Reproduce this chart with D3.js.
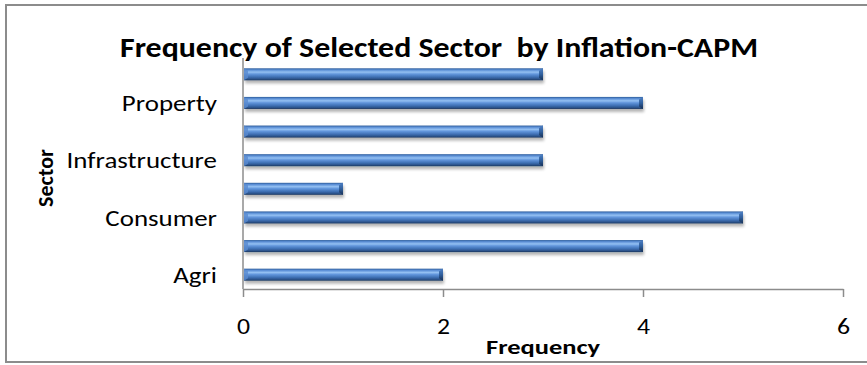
<!DOCTYPE html>
<html>
<head>
<meta charset="utf-8">
<script src="https://cdn.jsdelivr.net/npm/d3@7"></script>
<style>
  html, body { margin: 0; padding: 0; background: #ffffff; }
  svg { display: block; }
  text { font-family: Carlito, Calibri, Lato, "Open Sans", sans-serif; fill: #000; }
</style>
</head>
<body>
<svg id="chart" width="867" height="365"></svg>
<script>
// Sector categories, bottom to top; every other label is left blank on the axis
const categories = ["Agri", "", "Consumer", "", "Infrastructure", "", "Property", ""];
const frequency = [2, 4, 5, 1, 3, 3, 4, 3];
const xTicks = [0, 2, 4, 6];
const titleText = "Frequency of Selected Sector  by Inflation-CAPM";
const xTitle = "Frequency";
const yTitle = "Sector";

const svg = d3.select("#chart");
const W = 867, H = 365;
const margin = { left: 243, right: 24, top: 60, bottom: 76 };

// Widen horizontal text by a factor of its natural length
function widen(sel, k) {
  sel.each(function () {
    const len = this.getComputedTextLength();
    d3.select(this).attr("textLength", len * k).attr("lengthAdjust", "spacingAndGlyphs");
  });
}
// Fit text to a given rendered length
function fitTo(sel, len) {
  sel.attr("textLength", len).attr("lengthAdjust", "spacingAndGlyphs");
}

// Outer chart frame
svg.append("rect")
  .attr("x", 6).attr("y", 5)
  .attr("width", W + 10).attr("height", 357)
  .attr("fill", "#fff").attr("stroke", "#8c8c8c").attr("stroke-width", 2);

const x = d3.scaleLinear().domain([0, 6]).range([margin.left, W - margin.right]);
const idx = d3.range(categories.length);
const y = d3.scaleBand().domain(idx.slice().reverse())
  .range([margin.top, H - margin.bottom]).paddingInner(0.58).paddingOuter(0.29);

// Bar fill: bevelled blue with light highlight near the top edge
const defs = svg.append("defs");
const grad = defs.append("linearGradient").attr("id", "barGrad")
  .attr("x1", 0).attr("y1", 0).attr("x2", 0).attr("y2", 1);
[[0, "#2e5c9a"], [0.14, "#5b8fd6"], [0.32, "#94c0f2"], [0.48, "#6296dc"],
 [0.72, "#3f70b4"], [0.9, "#2a5188"], [1, "#1b365c"]]
  .forEach(([o, c]) => grad.append("stop").attr("offset", o).attr("stop-color", c));
const capGrad = defs.append("linearGradient").attr("id", "capGrad")
  .attr("x1", 0).attr("y1", 0).attr("x2", 0).attr("y2", 1);
[[0, "#4f80c4"], [0.5, "#30609e"], [1, "#182f52"]]
  .forEach(([o, c]) => capGrad.append("stop").attr("offset", o).attr("stop-color", c));
const shadow = defs.append("filter").attr("id", "barShadow")
  .attr("x", "-5%").attr("y", "-50%").attr("width", "110%").attr("height", "220%");
shadow.append("feGaussianBlur").attr("in", "SourceAlpha").attr("stdDeviation", 1.5).attr("result", "b");
shadow.append("feOffset").attr("in", "b").attr("dx", 1).attr("dy", 2.5).attr("result", "o");
shadow.append("feComponentTransfer").attr("in", "o").attr("result", "s")
  .append("feFuncA").attr("type", "linear").attr("slope", 0.3);
const fm = shadow.append("feMerge");
fm.append("feMergeNode").attr("in", "s");
fm.append("feMergeNode").attr("in", "SourceGraphic");

// Bars
const bars = svg.append("g").selectAll("g").data(idx).join("g")
  .attr("filter", "url(#barShadow)");
bars.append("rect")
  .attr("x", x(0) + 1)
  .attr("y", i => y(i))
  .attr("width", i => x(frequency[i]) - x(0) - 1)
  .attr("height", y.bandwidth())
  .attr("fill", "url(#barGrad)");
// Right-end bevel
bars.append("path")
  .attr("d", i => {
    const x1 = x(frequency[i]), y0 = y(i), h = y.bandwidth();
    return `M${x1 - 4},${y0 + 2.5} L${x1},${y0} L${x1},${y0 + h} L${x1 - 4},${y0 + h - 2.5} Z`;
  })
  .attr("fill", "url(#capGrad)");
// Left-end bevel
bars.append("path")
  .attr("d", i => {
    const x0 = x(0) + 1, y0 = y(i), h = y.bandwidth();
    return `M${x0},${y0} L${x0 + 4},${y0 + 2.5} L${x0 + 4},${y0 + h - 2.5} L${x0},${y0 + h} Z`;
  })
  .attr("fill", "#5a8bd0").attr("opacity", 0.8);

// X axis
const xAxis = svg.append("g")
  .attr("transform", `translate(0,${H - margin.bottom})`)
  .call(d3.axisBottom(x).tickValues(xTicks).tickFormat(d3.format("d"))
    .tickSize(8).tickPadding(21).tickSizeOuter(0));
xAxis.select(".domain").attr("stroke", "#8c8c8c").attr("stroke-width", 1.5);
xAxis.selectAll(".tick line").attr("stroke", "#8c8c8c").attr("stroke-width", 1.5);
xAxis.selectAll(".tick text").attr("font-size", 23).attr("fill", "#000");
widen(xAxis.selectAll(".tick text"), 1.12);

// Y axis: vertical line only, labels on every other category
svg.append("line")
  .attr("x1", x(0)).attr("x2", x(0))
  .attr("y1", margin.top - 2).attr("y2", H - margin.bottom)
  .attr("stroke", "#8c8c8c").attr("stroke-width", 1.5);
const yLabels = svg.append("g").selectAll("text")
  .data(idx.filter(i => categories[i] !== "")).join("text")
  .attr("x", x(0) - 26)
  .attr("y", i => y(i) + y.bandwidth() / 2)
  .attr("dy", "0.36em")
  .attr("text-anchor", "end")
  .attr("font-size", 23)
  .text(i => categories[i]);
widen(yLabels, 1.17);

// Titles
const title = svg.append("text")
  .attr("x", 439).attr("y", 57)
  .attr("text-anchor", "middle")
  .attr("font-size", 28).attr("font-weight", "bold")
  .style("white-space", "pre")
  .text(titleText);
fitTo(title, 638);
const xt = svg.append("text")
  .attr("x", (x(0) + x(6)) / 2).attr("y", 354)
  .attr("text-anchor", "middle")
  .attr("font-size", 21).attr("font-weight", "bold")
  .text(xTitle);
fitTo(xt, 114);
svg.append("text")
  .attr("transform", `translate(53,178) rotate(-90)`)
  .attr("text-anchor", "middle")
  .attr("font-size", 22).attr("font-weight", "bold")
  .text(yTitle);
</script>
</body>
</html>
